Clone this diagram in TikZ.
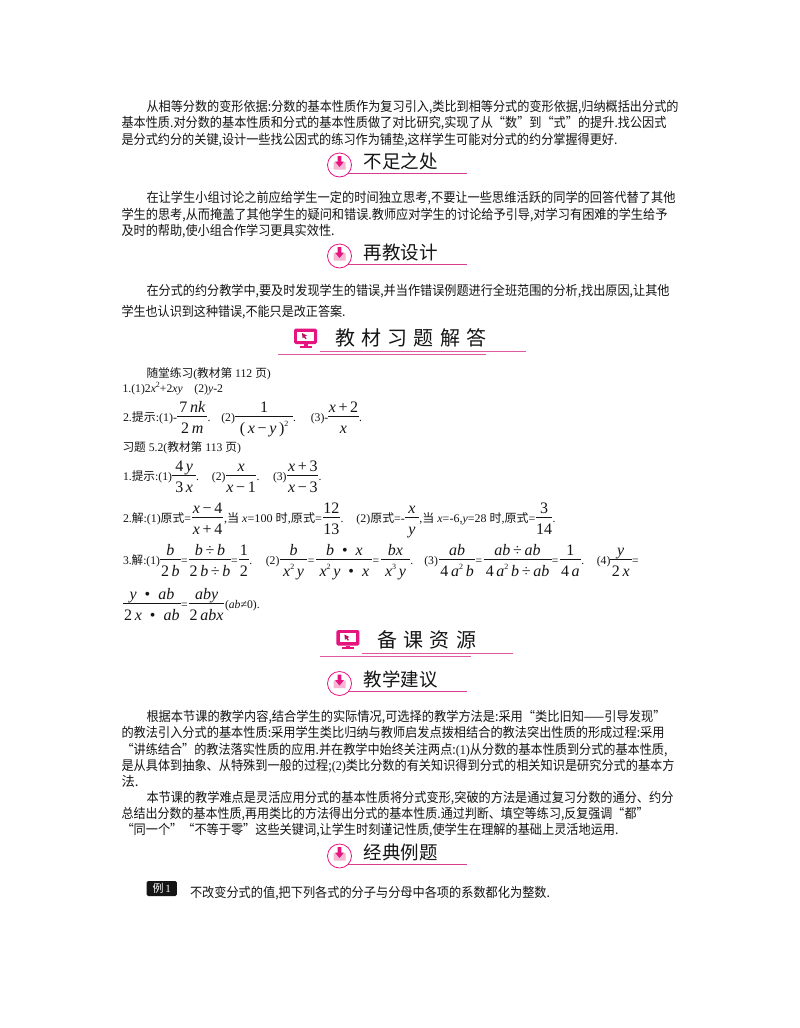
\documentclass[tikz,border=0pt]{standalone}
\usepackage{fontspec}
\usepackage{graphicx}
\setmainfont{Noto Sans CJK SC}
\newfontfamily\lr{Liberation Serif}
\definecolor{ink}{HTML}{151515}
\definecolor{mag}{HTML}{E5147F}
\definecolor{lmag}{HTML}{F7B5D5}
\definecolor{rulec}{HTML}{D93A92}
\newcount\tc
\newcommand\T[3]{\global\advance\tc by 1 \node[txt,name=t\the\tc] at (#1,#2) {#3};}
\newcommand\Lw[4]{\T{#1}{#2}{\resizebox{#3pt}{\height}{#4}}}
\newcommand\I[1]{{\lr\itshape #1}}
\newcommand\R[1]{{\lr #1}}
\newcommand\Sp[1]{\raisebox{0.42em}{\fontsize{8}{8}\selectfont #1}}
\newcommand\F[5]{\pgfmathsetmacro\xc{(#1+#2)/2}
  \draw[barline] (#1,#3) -- (#2,#3);
  \global\advance\tc by 1 \node[fracnum,name=t\the\tc] at (\xc,#3-3.8) {\lr #4};
  \global\advance\tc by 1 \node[fracnum,name=t\the\tc] at (\xc,#3+17.2) {\lr #5};}
\newcommand\Hd[2]{%
  \draw[headrule] (348,#1+8.2) -- (467.4,#1+8.2);
  \draw[line width=0.8pt,draw=mag,fill=white] (339.5,#1) circle[radius=12];
  \fill[lmag] (333.5,#1-3) -- (336,#1-3) -- (339.5,#1+1) -- (343,#1-3) -- (345.5,#1-3) -- (345.5,#1+4.5) -- (333.5,#1+4.5) -- cycle;
  \fill[mag] (337.7,#1-9) -- (341.3,#1-9) -- (341.3,#1-3.5) -- (344,#1-3.5) -- (339.5,#1+2) -- (335,#1-3.5) -- (337.7,#1-3.5) -- cycle;
  \global\advance\tc by 1 \node[headtxt,name=t\the\tc] at (363.5,#1+3.2) {#2};}
\newcommand\Scr[2]{%
  \begin{scope}[shift={(#1,#2)}]
    \fill[mag,rounded corners=1.6pt] (0,0) rectangle (23,15.5);
    \fill[white] (3.4,3) rectangle (19.6,12.4);
    \fill[mag!80!black] (8,4.5) -- (13,7) -- (11,8) -- (12.6,10) -- (11.4,10.6) -- (9.8,8.6) -- (8.6,10) -- cycle;
    \fill[mag] (9.5,15.5) rectangle (13.5,17.5);
    \fill[mag] (5.5,17.2) rectangle (17.5,19);
  \end{scope}}
\tikzset{
  txt/.style={anchor=base west,inner sep=0pt,outer sep=0pt,text=ink,font=\fontsize{11.7}{13}\selectfont},
  fracnum/.style={anchor=base,inner sep=0pt,outer sep=0pt,text=ink,font=\fontsize{16}{18}\selectfont},
  headtxt/.style={anchor=base west,inner sep=0pt,outer sep=0pt,text=ink,font=\fontsize{18.5}{20}\selectfont},
  bigtxt/.style={anchor=base,inner sep=0pt,outer sep=0pt,text=ink,font=\fontsize{20}{22}\selectfont},
  barline/.style={line width=0.6pt,draw=ink},
  headrule/.style={line width=0.9pt,draw=rulec},
  pinkrule/.style={line width=0.7pt,draw=rulec!85!white},
}
\newcommand\B[3]{\global\advance\tc by 1 \node[bigtxt,name=t\the\tc] at (#1,#2) {#3};}
\begin{document}
\begin{tikzpicture}[x=1pt,y=-1pt]
\useasboundingbox (0,0) rectangle (800,1028);
\fill[white] (0,0) rectangle (800,1028);
\def\BS{\fontsize{13.3}{15}\selectfont}
% paragraph 1
\Lw{146.5}{111.5}{532}{\BS 从相等分数的变形依据:分数的基本性质作为复习引入,类比到相等分式的变形依据,归纳概括出分式的}
\Lw{121.5}{127.5}{545}{\BS 基本性质.对分数的基本性质和分式的基本性质做了对比研究,实现了从“数”到“式”的提升.找公因式}
\Lw{121.5}{144}{496}{\BS 是分式约分的关键,设计一些找公因式的练习作为铺垫,这样学生可能对分式的约分掌握得更好.}
\Hd{165}{不足之处}
% paragraph 2
\Lw{146.5}{202.5}{529}{\BS 在让学生小组讨论之前应给学生一定的时间独立思考,不要让一些思维活跃的同学的回答代替了其他}
\Lw{121.5}{219}{546}{\BS 学生的思考,从而掩盖了其他学生的疑问和错误.教师应对学生的讨论给予引导,对学习有困难的学生给予}
\Lw{121.5}{235}{213}{\BS 及时的帮助,使小组合作学习更具实效性.}
\Hd{256}{再教设计}
% paragraph 3
\Lw{146.5}{295}{523}{\BS 在分式的约分教学中,要及时发现学生的错误,并当作错误例题进行全班范围的分析,找出原因,让其他}
\Lw{121.5}{316.5}{224}{\BS 学生也认识到这种错误,不能只是改正答案.}
% section banner 1
\Scr{294}{328.5}
\draw[pinkrule] (319.5,351) -- (526,351);
\draw[pinkrule] (278,354.3) -- (485.5,354.3);
\B{345}{345.5}{教}\B{371.5}{345.5}{材}\B{397}{345.5}{习}\B{423.5}{345.5}{题}\B{450}{345.5}{解}\B{476.5}{345.5}{答}
% exercises
\T{146.5}{377}{随堂练习\R{(}教材第\R{ 112 }页\R{)}}
\T{122.5}{392}{\R{1.(1)2}\I{x}\Sp{\lr 2}\R{+2}\I{xy}\R{\ \ \ \ (2)}\I{y}\R{-2}}
\Lw{123}{421}{54}{\R{2.}提示\R{:(1)-}}
\F{177.2}{207.4}{416}{7\,\I{nk}}{2\,\I{m}}
\T{207.6}{421}{\R{.}}
\T{221.3}{421}{\R{(2)}}
\F{235.3}{293}{416}{1}{(\,\I{x}\,−\,\I{y}\,)\Sp{2}}
\T{293.2}{421}{\R{.}}
\T{310.8}{421}{\R{(3)-}}
\F{328}{359}{416}{\I{x}\,+\,2}{\I{x}}
\T{359.2}{421}{\R{.}}
\T{122.5}{451.5}{习题\R{ 5.2(}教材第\R{ 113 }页\R{)}}
\Lw{123}{480.5}{49}{\R{1.}提示\R{:(1)}}
\F{172.3}{196}{475.7}{4\,\I{y}}{3\,\I{x}}
\T{196.2}{480.5}{\R{.}}
\T{211.9}{480.5}{\R{(2)}}
\F{225.8}{256.4}{475.7}{\I{x}}{\I{x}\,−\,1}
\T{256.6}{480.5}{\R{.}}
\T{273}{480.5}{\R{(3)}}
\F{287.4}{318.3}{475.7}{\I{x}\,+\,3}{\I{x}\,−\,3}
\T{318.5}{480.5}{\R{.}}
% 2. jie
\Lw{123}{522}{68}{\R{2.}解\R{:(1)}原式\R{=}}
\F{191.9}{223.2}{517}{\I{x}\,−\,4}{\I{x}\,+\,4}
\Lw{224}{522}{98}{\R{,}当\R{ }\I{x}\R{=100 }时\R{,}原式\R{=}}
\F{322.5}{340.2}{517}{12}{13}
\T{340.6}{522}{\R{.}}
\Lw{356.4}{522}{48.5}{\R{(2)}原式\R{=-}}
\F{405}{418.7}{517}{\I{x}}{\I{y}}
\Lw{419.4}{522}{116}{\R{,}当\R{ }\I{x}\R{=-6,}\I{y}\R{=28 }时\R{,}原式\R{=}}
\F{535.7}{552.3}{517}{3}{14}
\T{552.7}{522}{\R{.}}
% 3. jie
\Lw{123}{564}{37}{\R{3.}解\R{:(1)}}
\F{160.2}{180.6}{559}{\I{b}}{2\,\I{b}}
\T{181}{564}{\R{=}}
\F{189.2}{230.8}{559}{\I{b}\,÷\,\I{b}}{2\,\I{b}\,÷\,\I{b}}
\T{231.2}{564}{\R{=}}
\F{239}{248.9}{559}{1}{2}
\T{249.3}{564}{\R{.}}
\T{265.8}{564}{\R{(2)}}
\F{279.8}{307.4}{559}{\I{b}}{\I{x}\Sp{2}\,\I{y}}
\T{307.8}{564}{\R{=}}
\F{316.4}{372.3}{559}{\I{b}\ \ •\ \ \I{x}}{\I{x}\Sp{2}\,\I{y}\ \ •\ \ \I{x}}
\T{372.7}{564}{\R{=}}
\F{381}{410}{559}{\I{bx}}{\I{x}\Sp{3}\,\I{y}}
\T{410.4}{564}{\R{.}}
\T{424.3}{564}{\R{(3)}}
\F{439}{475.3}{559}{\I{ab}}{4\,\I{a}\Sp{2}\,\I{b}}
\T{475.7}{564}{\R{=}}
\F{483.6}{551.5}{559}{\I{ab}\,÷\,\I{ab}}{4\,\I{a}\Sp{2}\,\I{b}\,÷\,\I{ab}}
\T{551.9}{564}{\R{=}}
\F{559.8}{581}{559}{1}{4\,\I{a}}
\T{581.4}{564}{\R{.}}
\T{596.8}{564}{\R{(4)}}
\F{610}{631.5}{559}{\I{y}}{2\,\I{x}}
\T{632}{564}{\R{=}}
\F{123.2}{180.6}{603.3}{\I{y}\ \ •\ \ \I{ab}}{2\,\I{x}\ \ •\ \ \I{ab}}
\T{181}{608}{\R{=}}
\F{189.2}{224}{603.3}{\I{aby}}{2\,\I{abx}}
\T{225}{608}{\R{(}\I{ab}\R{≠0).}}
% section banner 2
\Scr{336.4}{630}
\draw[pinkrule] (361.7,653) -- (512.6,653);
\draw[pinkrule] (320,656.3) -- (471,656.3);
\B{387}{647}{备}\B{413}{647}{课}\B{439.5}{647}{资}\B{466}{647}{源}
\Hd{683.5}{教学建议}
% recommendations
\Lw{146.5}{721}{519}{\BS 根据本节课的教学内容,结合学生的实际情况,可选择的教学方法是:采用“类比旧知——引导发现”}
\Lw{121.5}{737.5}{543}{\BS 的教法引入分式的基本性质:采用学生类比归纳与教师启发点拨相结合的教法突出性质的形成过程:采用}
\Lw{121.5}{754}{546}{\BS “讲练结合”的教法落实性质的应用.并在教学中始终关注两点:{\lr (1)}从分数的基本性质到分式的基本性质,}
\Lw{121.5}{770}{553}{\BS 是从具体到抽象、从特殊到一般的过程;{\lr (2)}类比分数的有关知识得到分式的相关知识是研究分式的基本方}
\T{121.5}{786.5}{\BS 法.}
\Lw{146.5}{802.5}{527}{\BS 本节课的教学难点是灵活应用分式的基本性质将分式变形,突破的方法是通过复习分数的通分、约分}
\Lw{121.5}{818.5}{527}{\BS 总结出分数的基本性质,再用类比的方法得出分式的基本性质.通过判断、填空等练习,反复强调“都”}
\Lw{121.5}{834.5}{497}{\BS “同一个”“不等于零”这些关键词,让学生时刻谨记性质,使学生在理解的基础上灵活地运用.}
\Hd{856}{经典例题}
% example
\fill[ink,rounded corners=1.5pt] (146.6,881) rectangle (176.8,896);
\global\advance\tc by 1 \node[anchor=center,inner sep=0pt,text=white,font=\fontsize{11}{12}\selectfont,name=t\the\tc] at (161.7,888.5) {例\,\R{1}};
\Lw{190}{897.5}{360}{\BS 不改变分式的值,把下列各式的分子与分母中各项的系数都化为整数.}
\end{tikzpicture}
\end{document}
